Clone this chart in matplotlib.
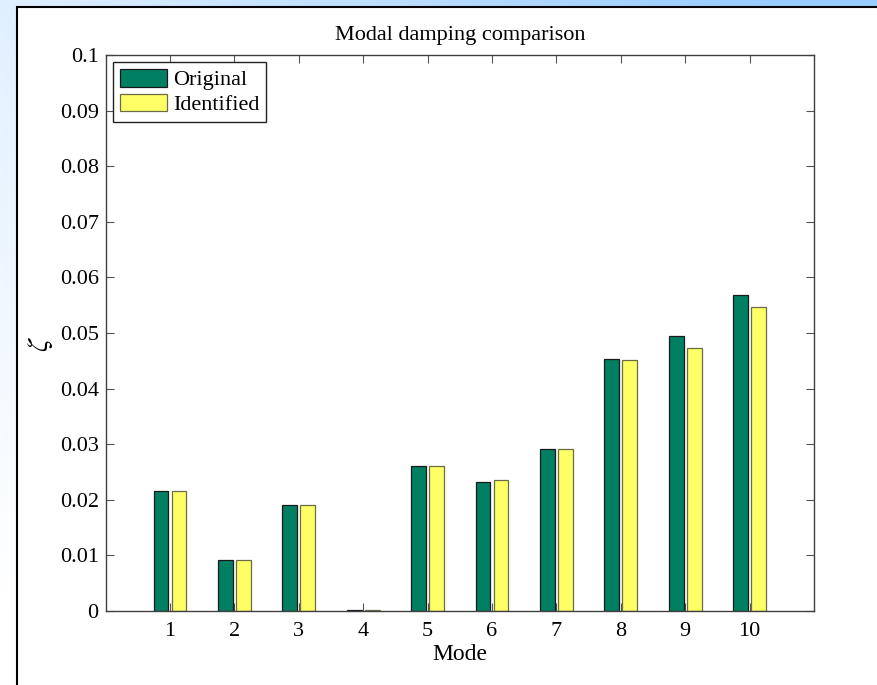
import numpy as np
import matplotlib
matplotlib.use("Agg")
import matplotlib.pyplot as plt
from matplotlib.patches import Rectangle

modes = [1, 2, 3, 4, 5, 6, 7, 8, 9, 10]
original = [0.0215, 0.0092, 0.0190, 0.0001, 0.0261, 0.0232, 0.0291, 0.0453, 0.0494, 0.0568]
identified = [0.0215, 0.0092, 0.0190, 0.0001, 0.0261, 0.0235, 0.0291, 0.0451, 0.0473, 0.0546]
yticks = [0, 0.01, 0.02, 0.03, 0.04, 0.05, 0.06, 0.07, 0.08, 0.09, 0.1]
ytick_labels = ["0", "0.01", "0.02", "0.03", "0.04", "0.05", "0.06", "0.07", "0.08", "0.09", "0.1"]
series_names = ["Original", "Identified"]

plt.rcParams['font.family'] = ['Liberation Serif', 'DejaVu Serif']
plt.rcParams['mathtext.fontset'] = 'stix'

W, H = 877, 685
fig = plt.figure(figsize=(W / 100, H / 100), dpi=100)
fig.patch.set_facecolor('white')

# background gradient
bg = fig.add_axes([0, 0, 1, 1], zorder=-10)
xs = np.linspace(0, 1, 200)
ys = np.linspace(0, 1, 200)
X, Y = np.meshgrid(xs, ys)
t = np.clip(X * 0.8 + (1 - Y) * 0.35 - 0.05, 0, 1)
c0 = np.array([1.0, 1.0, 1.0])
c1 = np.array([0.60, 0.80, 1.0])
img = c0[None, None, :] * (1 - t[..., None]) + c1[None, None, :] * t[..., None]
bg.imshow(img, extent=[0, 1, 0, 1], origin='upper', aspect='auto')
bg.set_xlim(0, 1)
bg.set_ylim(0, 1)
bg.axis('off')
# white panel with black border
px0, py0 = 17 / W, 7 / H
bg.add_patch(Rectangle((px0, -0.01), 1.05, 1 - py0 + 0.01, facecolor='white',
                       edgecolor='black', linewidth=1.5, transform=bg.transAxes, zorder=5))

ax = fig.add_axes([105.6 / W, 74 / H, (814 - 105.6) / W, (611 - 55) / H])
x = np.array(modes, dtype=float)
bw = 0.23
off = 0.14
ax.bar(x - off, original, width=bw, color='#007f62', edgecolor='#1a1a1a', linewidth=0.9,
       label=series_names[0], zorder=2)
ax.bar(x + off, identified, width=bw, color='#ffff66', edgecolor='#6b6b45', linewidth=0.9,
       label=series_names[1], zorder=2)

ax.set_xlim(0, 11)
ax.set_ylim(0, 0.1)
ax.set_xticks(modes)
ax.set_xticklabels([str(m) for m in modes])
ax.set_yticks(yticks)
ax.set_yticklabels(ytick_labels)
ax.tick_params(direction='in', top=True, right=True, length=6, width=0.8,
               colors='#555555', labelcolor='black', labelsize=16)
ax.tick_params(axis='x', pad=8)
ax.tick_params(axis='y', pad=5)
for s in ax.spines.values():
    s.set_color('#404040')
    s.set_linewidth(1.0)

ax.set_title('Modal damping comparison', fontsize=16, pad=11)
ax.set_xlabel('Mode', fontsize=17, labelpad=2)
ax.set_ylabel(r'$\zeta$', fontsize=21, labelpad=2)
ax.yaxis.set_label_coords(-0.071, 0.48)

leg = ax.legend(loc='upper left', bbox_to_anchor=(113 / W, 1 - 62 / H),
                bbox_transform=fig.transFigure, borderaxespad=0, fancybox=False,
                framealpha=1, edgecolor='#222222', fontsize=16,
                handlelength=2.15, handleheight=0.86, handletextpad=0.25,
                labelspacing=0.15, borderpad=0.3)
leg.get_frame().set_linewidth(1.0)

fig.savefig('out.png', dpi=100)
